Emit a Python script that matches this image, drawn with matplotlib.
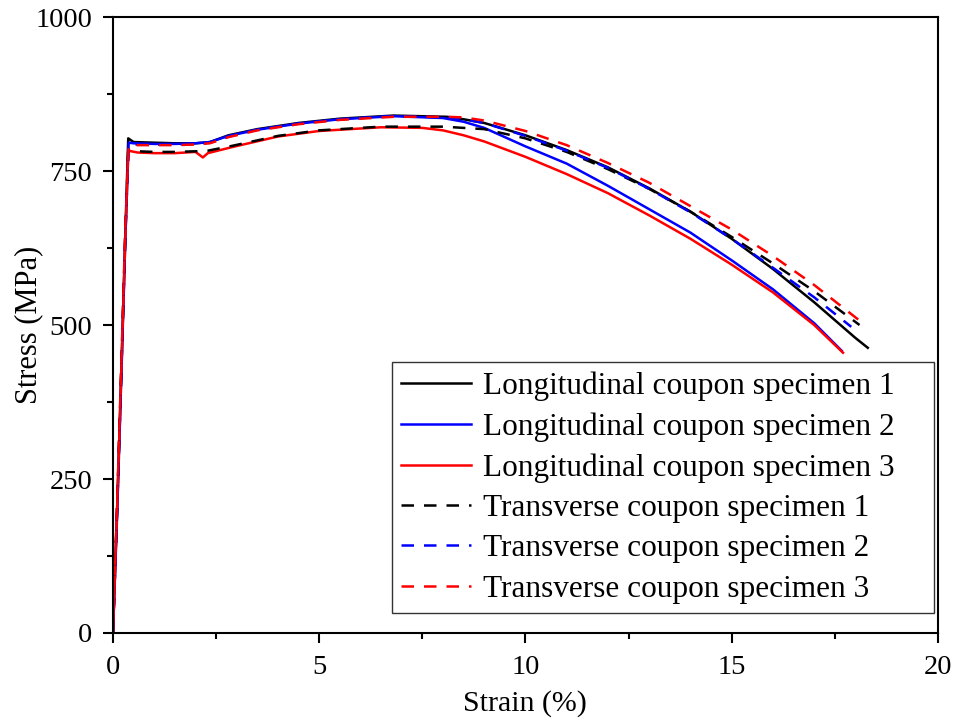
import matplotlib
matplotlib.use("Agg")
import matplotlib.pyplot as plt
from matplotlib.ticker import MultipleLocator

plt.rcParams['font.family'] = ['Liberation Serif', 'DejaVu Serif']
plt.rcParams['mathtext.fontset'] = 'stix'

# ---------------- data (strain %, stress MPa) ----------------
L1_strain = [0, 0.1, 0.2, 0.3, 0.37, 0.5, 1.0, 1.5, 2.0, 2.35, 2.8, 3.5, 4.5, 5.5, 6.8, 8.1, 8.5,
             9.0, 10.0, 11.0, 12.0, 13.0, 14.0, 15.0, 16.0, 17.0, 18.0, 18.3]
L1_stress = [0, 200, 420, 650, 803, 797, 796, 795, 795, 797, 808, 818, 828, 835, 840, 838, 834,
             828, 808, 784, 756, 722, 684, 640, 591, 537, 479, 463]

L2_strain = [0, 0.1, 0.2, 0.3, 0.38, 0.5, 1.0, 1.5, 2.0, 2.35, 2.8, 3.5, 4.5, 5.5, 6.8, 8.0, 8.5,
             9.0, 10.0, 11.0, 12.0, 13.0, 14.0, 15.0, 16.0, 17.0, 17.67]
L2_stress = [0, 190, 410, 640, 796, 795, 794, 794, 795, 797, 807, 817, 827, 834, 839, 836, 830,
             820, 790, 762, 726, 688, 650, 605, 558, 503, 458]

L3_strain = [0, 0.1, 0.2, 0.3, 0.37, 0.6, 1.0, 1.5, 2.0, 2.18, 2.3, 2.9, 4.0, 5.0, 6.5, 7.5, 8.0,
             8.5, 9.0, 10.0, 11.0, 12.0, 13.0, 14.0, 15.0, 16.0, 17.0, 17.7]
L3_stress = [0, 200, 420, 640, 783, 780, 779, 779, 781, 772, 779, 789, 806, 815, 821, 820, 816,
             808, 798, 773, 745, 714, 678, 640, 598, 553, 500, 455]

T1_strain = [0, 0.1, 0.2, 0.3, 0.37, 0.6, 1.0, 1.5, 2.0, 2.3, 2.9, 4.0, 5.0, 6.5, 8.0, 9.0,
             10.0, 11.0, 12.0, 13.0, 14.0, 15.0, 16.0, 17.0, 18.1]
T1_stress = [0, 205, 425, 650, 784, 782, 781, 781, 782, 783, 791, 807, 816, 822, 822, 818,
             803, 781, 753, 721, 684, 643, 600, 555, 500]

T2_strain = [0, 0.1, 0.2, 0.3, 0.38, 0.5, 1.0, 1.5, 2.0, 2.35, 2.8, 3.5, 4.5, 5.5, 6.8, 8.1, 8.5,
             9.0, 10.0, 11.0, 12.0, 13.0, 14.0, 15.0, 16.0, 17.0, 17.9]
T2_stress = [0, 195, 415, 645, 792, 793, 793, 793, 794, 796, 806, 817, 827, 834, 839, 837, 834,
             828, 807, 783, 755, 721, 683, 640, 593, 545, 497]

T3_strain = [0, 0.1, 0.2, 0.3, 0.38, 0.5, 1.0, 1.5, 2.0, 2.35, 2.8, 3.5, 4.5, 5.5, 6.8, 8.1, 8.5,
             9.0, 10.0, 11.0, 12.0, 13.0, 14.0, 15.0, 16.0, 17.0, 18.18]
T3_stress = [0, 210, 430, 660, 790, 792, 792, 792, 793, 795, 805, 816, 826, 833, 838, 838, 837,
             832, 815, 792, 763, 731, 693, 655, 612, 565, 503]

labels = ['Longitudinal coupon specimen 1', 'Longitudinal coupon specimen 2',
          'Longitudinal coupon specimen 3', 'Transverse coupon specimen 1',
          'Transverse coupon specimen 2', 'Transverse coupon specimen 3']

# ---------------- plot ----------------
fig = plt.figure(figsize=(9.59, 7.27), dpi=100)
ax = fig.add_axes([0.1178, 0.1293, 0.8602, 0.8473])

lw = 1.8
dash = (0, (5, 4))
ax.plot(L1_strain, L1_stress, color='black', lw=lw, label=labels[0])
ax.plot(L2_strain, L2_stress, color='#0000FF', lw=lw, label=labels[1])
ax.plot(L3_strain, L3_stress, color='#FF0000', lw=lw, label=labels[2])
ax.plot(T1_strain, T1_stress, color='black', lw=lw, linestyle=dash, label=labels[3])
ax.plot(T2_strain, T2_stress, color='#0000FF', lw=lw, linestyle=dash, label=labels[4])
ax.plot(T3_strain, T3_stress, color='#FF0000', lw=lw, linestyle=dash, label=labels[5])

ax.set_xlim(0, 20)
ax.set_ylim(0, 1000)
ax.xaxis.set_major_locator(MultipleLocator(5))
ax.xaxis.set_minor_locator(MultipleLocator(2.5))
ax.yaxis.set_major_locator(MultipleLocator(250))
ax.yaxis.set_minor_locator(MultipleLocator(125))
ax.tick_params(which='both', direction='out', top=False, right=False, width=1.5,
               labelsize=20.5, colors='black')
ax.tick_params(which='major', length=7)
ax.tick_params(which='minor', length=4)
ax.tick_params(axis='x', which='major', pad=9)
ax.tick_params(axis='y', which='major', pad=8)
for s in ax.spines.values():
    s.set_linewidth(1.5)

ax.set_xlabel('Strain (%)', fontsize=21.5)
ax.set_ylabel('Stress (MPa)', fontsize=22)
ax.xaxis.set_label_coords(0.5, -0.092)
ax.yaxis.set_label_coords(-0.085, 0.5)

leg = ax.legend(loc='lower left', bbox_to_anchor=(0.338, 0.0325, 0.657, 0.404),
                mode='expand', borderaxespad=0,
                fontsize=22.5, frameon=True, fancybox=False, edgecolor='black',
                handlelength=2.24, handletextpad=0.38, labelspacing=0.36,
                borderpad=0.3)
leg.get_frame().set_linewidth(1.0)

fig.savefig('out.png', dpi=100)
